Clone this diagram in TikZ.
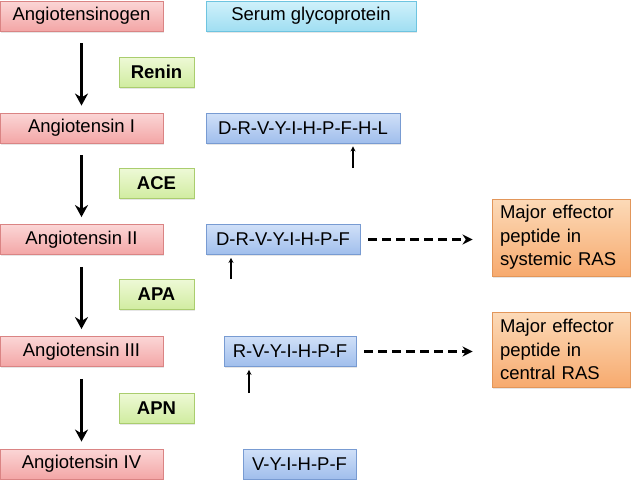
\documentclass[tikz,border=0pt]{standalone}
\usepackage{fontspec}
\setmainfont{Liberation Sans}
\usetikzlibrary{positioning,shadows,arrows.meta}

\definecolor{redtop}{RGB}{251,214,214}
\definecolor{redbot}{RGB}{243,166,166}
\definecolor{redline}{RGB}{218,132,132}
\definecolor{cyantop}{RGB}{208,241,251}
\definecolor{cyanbot}{RGB}{160,222,242}
\definecolor{cyanline}{RGB}{110,196,224}
\definecolor{bluetop}{RGB}{208,224,248}
\definecolor{bluebot}{RGB}{160,190,236}
\definecolor{blueline}{RGB}{120,155,210}
\definecolor{greentop}{RGB}{238,249,214}
\definecolor{greenbot}{RGB}{208,236,160}
\definecolor{greenline}{RGB}{170,205,110}
\definecolor{orangetop}{RGB}{252,218,184}
\definecolor{orangebot}{RGB}{247,170,110}
\definecolor{orangeline}{RGB}{226,150,90}

\begin{document}
\begin{tikzpicture}[x=1pt, y=-1pt,
        box/.style={draw, line width=0.9pt, inner sep=0pt, minimum height=30pt,
            font=\fontsize{18.5}{21}\selectfont,
            drop shadow={opacity=0.2, shadow xshift=1pt, shadow yshift=-1.5pt}},
        peptide/.style={box, draw=redline, top color=redtop, bottom color=redbot, minimum width=163pt},
        info/.style={box, draw=cyanline, top color=cyantop, bottom color=cyanbot},
        seq/.style={box, draw=blueline, top color=bluetop, bottom color=bluebot},
        enzyme/.style={box, draw=greenline, top color=greentop, bottom color=greenbot,
            minimum width=75pt, font=\fontsize{18.5}{21}\selectfont\bfseries},
        effect/.style={box, draw=orangeline, top color=orangetop, bottom color=orangebot,
            minimum width=138pt, text width=122pt, inner xsep=8pt, align=left,
            font=\fontsize{18.5}{23.5}\selectfont},
        conv/.style={-{Stealth[length=12pt,width=13pt]}, line width=2.8pt,
            shorten <=12pt, shorten >=7pt},
        cut/.style={-{Stealth[length=5pt,width=5pt]}, line width=1.2pt, shorten >=3pt},
        leads/.style={-{Stealth[length=10pt,width=10pt]}, line width=2.8pt,
            dash pattern=on 9pt off 5pt, shorten <=8pt, shorten >=19pt}]
    \useasboundingbox (0,0) rectangle (633,480);

    % precursor chain
    \node[peptide] (ang0) at (81.5,16) {Angiotensinogen};
    \node[peptide] (ang1) at (81.5,128) {Angiotensin I};
    \node[peptide] (ang2) at (81.5,239.5) {Angiotensin II};
    \node[peptide] (ang3) at (81.5,351.5) {Angiotensin III};
    \node[peptide] (ang4) at (81.5,464) {Angiotensin IV};

    \node[info, minimum width=210pt] (serum) at (311,16) {Serum glycoprotein};
    \node[seq, minimum width=194pt] (seq1) at (303,128) {D-R-V-Y-I-H-P-F-H-L};
    \node[seq, minimum width=154pt] (seq2) at (283,239.5) {D-R-V-Y-I-H-P-F};
    \node[seq, minimum width=132pt] (seq3) at (290,351.5) {R-V-Y-I-H-P-F};
    \node[seq, minimum width=113pt] (seq4) at (299.5,464) {V-Y-I-H-P-F};

    \node[enzyme] (renin) at (156.5,72) {Renin};
    \node[enzyme] (ace) at (156.5,183.5) {ACE};
    \node[enzyme] (apa) at (156.5,294.5) {APA};
    \node[enzyme] (apn) at (156.5,408) {APN};

    \node[effect, minimum height=77pt] (sysras) at (561,237.5)
        {Major effector\\peptide in\\systemic RAS};
    \node[effect, minimum height=75pt] (cenras) at (561,349.5)
        {Major effector\\peptide in\\central RAS};

    % conversions
    \draw[conv] (ang0) -- (ang1);
    \draw[conv] (ang1) -- (ang2);
    \draw[conv] (ang2) -- (ang3);
    \draw[conv] (ang3) -- (ang4);

    % cleavage sites
    \coordinate (cut1) at (353,168);
    \coordinate (cut2) at (231,279);
    \coordinate (cut3) at (249,393);
    \draw[cut] (cut1) -- (cut1 |- seq1.south);
    \draw[cut] (cut2) -- (cut2 |- seq2.south);
    \draw[cut] (cut3) -- (cut3 |- seq3.south);

    \draw[leads] (seq2) -- (sysras.west |- seq2);
    \draw[leads] (seq3.east) -- (cenras.west |- seq3);
\end{tikzpicture}
\end{document}
